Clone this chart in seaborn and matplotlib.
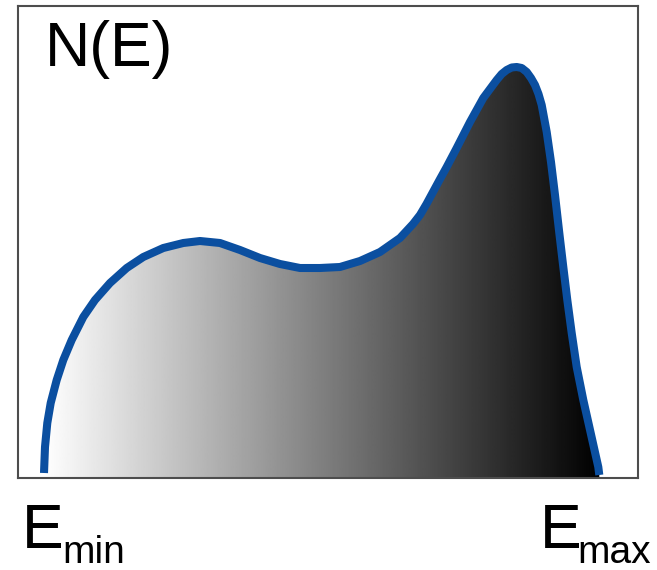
import numpy as np
import pandas as pd
import matplotlib
matplotlib.use("Agg")
import matplotlib.pyplot as plt
from matplotlib.patches import Polygon
import seaborn as sns

# Density of states N(E) sampled across the band (arbitrary units)
energy = [26, 27, 29.3, 32.7, 38.7, 45.3, 53.7, 65.3, 77, 92, 108.7, 125.3,
          145.3, 165.3, 182, 202, 222, 242, 262, 282, 302, 322, 342, 362, 382,
          395, 402, 408.5, 415, 421.5, 428.7, 438.7, 452, 465.3, 478.7, 483.7,
          488.7, 493.7, 498.7, 503.7, 508.7, 513, 517, 520.5, 523.7, 528.7,
          533, 537, 541.3, 545.3, 549.3, 553.7, 558.7, 565.3, 572.7, 580.3,
          581.3]
density = [5, 31, 55, 75, 98, 118, 138, 161, 178, 195, 210, 221,
           230, 235, 237, 235, 228, 220, 214, 210, 210, 211, 217, 226, 240,
           254, 263, 274, 286, 298, 311, 330, 356, 380, 398, 404,
           408, 410.5, 411, 410, 406, 400, 393, 384, 373, 346,
           316, 283, 245, 211, 178, 145, 111, 78, 45, 11,
           3]

e_lo, e_hi = 0, 620
n_lo, n_hi = 0, 472

sns.set_theme(style="white")
plt.rcParams["font.family"] = ["Liberation Sans", "DejaVu Sans"]

W, H = 657, 570
fig = plt.figure(figsize=(W / 100, H / 100), dpi=100)
fig.patch.set_facecolor("white")
ax = fig.add_axes([18 / W, (H - 478) / H, 620 / W, 472 / H])
ax.set_facecolor("white")

df = pd.DataFrame({"E": energy, "N": density})

# Grey gradient under the curve, white at low energy to black at high energy
grad = np.linspace(0, 1, 512).reshape(1, -1)
im = ax.imshow(grad, extent=[energy[0], energy[-1], n_lo, n_hi], cmap="gray_r",
               vmin=0, vmax=1, aspect="auto", origin="lower", zorder=1,
               interpolation="bilinear")
verts = list(zip(energy, density)) + [(energy[-1], n_lo), (energy[0], n_lo)]
clip = Polygon(verts, closed=True, transform=ax.transData, facecolor="none",
               edgecolor="none")
ax.add_patch(clip)
im.set_clip_path(clip)

sns.lineplot(data=df, x="E", y="N", ax=ax, color="#0b4fa0", linewidth=5.8,
             sort=False, zorder=3, solid_capstyle="butt", solid_joinstyle="round",
             antialiased=True)

ax.set_xlim(e_lo, e_hi)
ax.set_ylim(n_lo, n_hi)
ax.set_xticks([])
ax.set_yticks([])
ax.set_xlabel("")
ax.set_ylabel("")
for sp in ax.spines.values():
    sp.set_visible(True)
    sp.set_color("#4d4d4d")
    sp.set_linewidth(1.5)

ax.text(27, n_hi - 14, "N(E)", fontsize=45, color="black", va="top", ha="left")

def px(x, y):
    return x / W, 1 - y / H

fig.text(*px(22, 548), "E", fontsize=45, color="black", va="baseline", ha="left")
fig.text(*px(62, 563), "min", fontsize=28, color="black", va="baseline", ha="left")
fig.text(*px(540, 548), "E", fontsize=45, color="black", va="baseline", ha="left")
fig.text(*px(577, 563), "max", fontsize=28, color="black", va="baseline", ha="left")

fig.savefig("out.png", dpi=100)
